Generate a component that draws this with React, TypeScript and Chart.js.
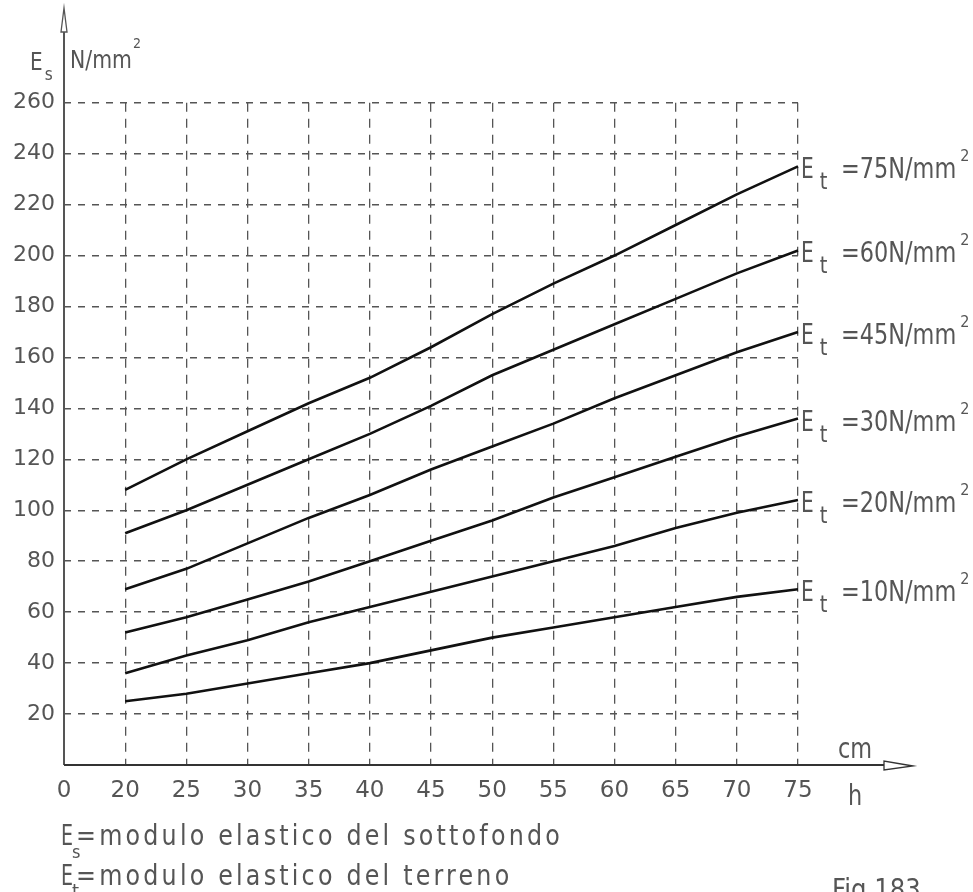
import React, { useEffect, useRef } from 'react';
import { Chart, registerables } from 'chart.js';

Chart.register(...registerables);

// h (cm) categories on the x axis; first one is the origin "0"
const hCategories = ['0', '20', '25', '30', '35', '40', '45', '50', '55', '60', '65', '70', '75'];
// E_t values (N/mm²) of each curve
const etValues = [75, 60, 45, 30, 20, 10];
// E_s values (N/mm²) for h = 20 ... 75
const esEt75 = [108, 120, 131, 142, 152, 164, 177, 189, 200, 212, 224, 235];
const esEt60 = [91, 100, 110, 120, 130, 141, 153, 163, 173, 183, 193, 202];
const esEt45 = [69, 77, 87, 97, 106, 116, 125, 134, 144, 153, 162, 170];
const esEt30 = [52, 58, 65, 72, 80, 88, 96, 105, 113, 121, 129, 136];
const esEt20 = [36, 43, 49, 56, 62, 68, 74, 80, 86, 93, 99, 104];
const esEt10 = [25, 28, 32, 36, 40, 45, 50, 54, 58, 62, 66, 69];
const yTickValues = [20, 40, 60, 80, 100, 120, 140, 160, 180, 200, 220, 240, 260];

const seriesList = [esEt75, esEt60, esEt45, esEt30, esEt20, esEt10];

const FONT = '"DejaVu Sans", "Liberation Sans", sans-serif';
const TEXT = '#555';

function seg(ctx: CanvasRenderingContext2D, text: string, x: number, base: number, size: number, sx: number, ls = 0): number {
  ctx.save();
  ctx.font = `${size}px ${FONT}`;
  (ctx as any).letterSpacing = ls + 'px';
  ctx.fillStyle = TEXT;
  ctx.textAlign = 'left';
  ctx.textBaseline = 'alphabetic';
  ctx.translate(x, base);
  ctx.scale(sx, 1);
  ctx.fillText(text, 0, 0);
  const w = ctx.measureText(text).width * sx;
  ctx.restore();
  return x + w;
}

function naturalWidth(ctx: CanvasRenderingContext2D, text: string, size: number): number {
  ctx.save();
  ctx.font = `${size}px ${FONT}`;
  (ctx as any).letterSpacing = '0px';
  const w = ctx.measureText(text).width;
  ctx.restore();
  return w;
}

const decorPlugin = {
  id: 'decor',
  afterDraw(chart: any) {
    const ctx: CanvasRenderingContext2D = chart.ctx;
    const { left, bottom } = chart.chartArea;

    // axes
    ctx.save();
    ctx.strokeStyle = '#555';
    ctx.lineWidth = 2;
    ctx.beginPath();
    ctx.moveTo(left, bottom);
    ctx.lineTo(left, 32);
    ctx.stroke();
    // y arrow (outlined)
    ctx.lineWidth = 1.3;
    ctx.beginPath();
    ctx.moveTo(left, 8);
    ctx.lineTo(left - 3, 32);
    ctx.lineTo(left + 3, 32);
    ctx.closePath();
    ctx.stroke();
    // x axis
    ctx.strokeStyle = '#333';
    ctx.lineWidth = 2.2;
    ctx.beginPath();
    ctx.moveTo(left, bottom);
    ctx.lineTo(884, bottom);
    ctx.stroke();
    ctx.lineWidth = 1.3;
    ctx.beginPath();
    ctx.moveTo(913, bottom + 1);
    ctx.lineTo(884, bottom - 4);
    ctx.lineTo(884, bottom + 5);
    ctx.closePath();
    ctx.stroke();
    ctx.restore();

    // axis titles
    let x = seg(ctx, 'E', 30, 70, 25, 0.8);
    seg(ctx, 's', x + 2, 80, 17, 0.9);
    x = seg(ctx, 'N/mm', 70, 68, 24, 0.85);
    seg(ctx, '2', x + 1, 48, 14, 0.9);
    seg(ctx, 'cm', 838, 758, 28, 0.8);
    seg(ctx, 'h', 848, 805, 28, 0.8);

    // curve labels
    chart.data.datasets.forEach((ds: any, i: number) => {
      const meta = chart.getDatasetMeta(i);
      const pt = meta.data[meta.data.length - 1];
      if (!pt) return;
      const base = pt.y + 12;
      const ex = seg(ctx, 'E', pt.x + 3, base, 28, 0.72);
      seg(ctx, 't', ex + 6, base + 11, 23, 0.85);
      const mx = seg(ctx, `=${etValues[i]}N/mm`, pt.x + 43, base, 28, 0.8);
      seg(ctx, '2', mx + 4, base - 17, 16, 0.9);
    });

    // legend text at the bottom
    const line1 = '=modulo elastico del sottofondo';
    const line2 = '=modulo elastico del terreno';
    const sx = 0.85;
    const nat = naturalWidth(ctx, line1, 28);
    const ls = Math.max(0, (487 / sx - nat) / line1.length);
    seg(ctx, 'E', 61, 845, 28, 0.68);
    seg(ctx, 's', 72, 858, 18, 0.9);
    seg(ctx, line1, 76, 845, 28, sx, ls);
    seg(ctx, 'E', 61, 885, 28, 0.68);
    seg(ctx, 't', 72, 898, 20, 0.9);
    seg(ctx, line2, 76, 885, 28, sx, ls);

    seg(ctx, 'Fig.183', 832, 899, 28, 0.87);
  },
};

export default function App() {
  const ref = useRef<HTMLCanvasElement>(null);
  useEffect(() => {
    const canvas = ref.current;
    if (!canvas) return;
    const chart = new Chart(canvas, {
      type: 'line',
      data: {
        labels: hCategories,
        datasets: seriesList.map((s, i) => ({
          label: `Et=${etValues[i]}`,
          data: [null, ...s],
          borderColor: '#111',
          borderWidth: 2.6,
          pointRadius: 0,
          tension: 0,
          fill: false,
        })),
      },
      options: {
        responsive: false,
        animation: false,
        layout: { padding: { top: 102.7, right: 175, left: 0, bottom: 0 } },
        plugins: {
          legend: { display: false },
          tooltip: { enabled: false },
          title: { display: false },
        },
        scales: {
          x: {
            type: 'category',
            offset: false,
            grid: {
              color: (c: any) => (c.index === 0 ? 'rgba(0,0,0,0)' : '#555'),
              lineWidth: 1.3,
              drawTicks: false,
            },
            border: { display: false, dash: [9, 7] },
            ticks: {
              autoSkip: false,
              maxRotation: 0,
              padding: 12,
              color: TEXT,
              font: { family: FONT, size: 23 },
            },
            afterFit: (s: any) => {
              s.height = 892 - 765;
            },
          },
          y: {
            type: 'linear',
            min: 0,
            max: 260,
            afterBuildTicks: (s: any) => {
              s.ticks = yTickValues.map((v) => ({ value: v }));
            },
            grid: {
              color: '#555',
              lineWidth: 1.5,
              drawTicks: false,
            },
            border: { display: false, dash: [7, 7] },
            ticks: {
              padding: 9,
              color: TEXT,
              font: { family: FONT, size: 22 },
            },
            afterFit: (s: any) => {
              s.width = 64;
            },
          },
        },
      } as any,
      plugins: [decorPlugin],
    });
    return () => chart.destroy();
  }, []);
  return (
    <canvas
      ref={ref}
      width={973}
      height={892}
      style={{ position: 'absolute', left: 0, top: 0, width: 973, height: 892, background: '#fff' }}
    />
  );
}
